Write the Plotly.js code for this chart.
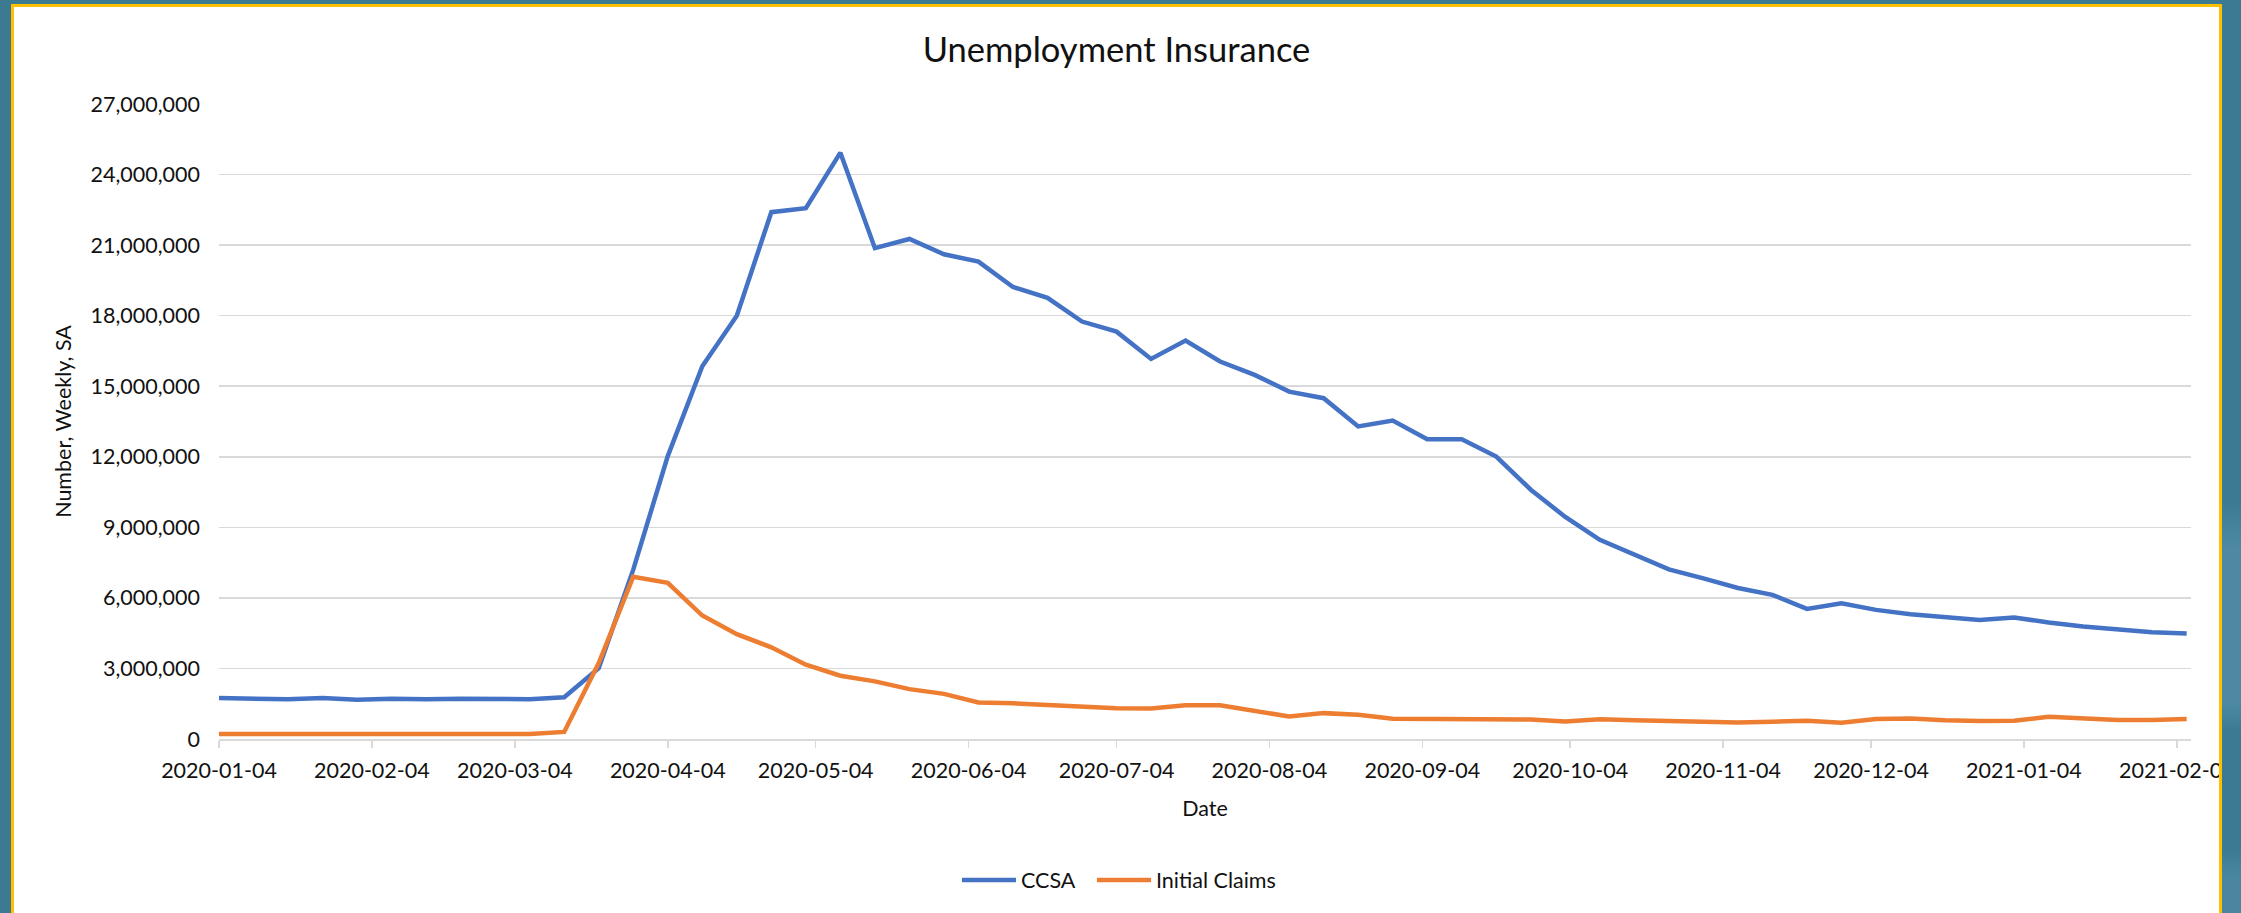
<!DOCTYPE html>
<html>
<head>
<meta charset="utf-8">
<script src="https://cdn.plot.ly/plotly-3.0.1.min.js"></script>
<style>
  html, body { margin: 0; padding: 0; width: 2241px; height: 913px; overflow: hidden; }
  body { background: #3c7a92; position: relative; }
  #rightstrip { position: absolute; left: 2222px; top: 0; width: 19px; height: 913px;
    background: linear-gradient(to bottom, #3c7a92 0%, #3c7a92 55%, #4d8aa1 60%, #4d8aa1 77%, #3c7a92 80%, #3c7a92 93%, #4a879e 96%, #4a879e 100%); }
  #frame { position: absolute; left: 11px; top: 4px; width: 2205px; height: 1000px;
    border: 3px solid #ffc000; background: #ffffff; overflow: hidden; }
  #chart { position: absolute; left: 0; top: 0; width: 2205px; height: 906px; }
</style>
</head>
<body>
<div id="rightstrip"></div>
<div id="frame"><div id="chart"></div></div>
<script>
// Week-ending dates (Saturdays)
const dates = [
  "2020-01-04","2020-01-11","2020-01-18","2020-01-25",
  "2020-02-01","2020-02-08","2020-02-15","2020-02-22","2020-02-29",
  "2020-03-07","2020-03-14","2020-03-21","2020-03-28",
  "2020-04-04","2020-04-11","2020-04-18","2020-04-25",
  "2020-05-02","2020-05-09","2020-05-16","2020-05-23","2020-05-30",
  "2020-06-06","2020-06-13","2020-06-20","2020-06-27",
  "2020-07-04","2020-07-11","2020-07-18","2020-07-25",
  "2020-08-01","2020-08-08","2020-08-15","2020-08-22","2020-08-29",
  "2020-09-05","2020-09-12","2020-09-19","2020-09-26",
  "2020-10-03","2020-10-10","2020-10-17","2020-10-24","2020-10-31",
  "2020-11-07","2020-11-14","2020-11-21","2020-11-28",
  "2020-12-05","2020-12-12","2020-12-19","2020-12-26",
  "2021-01-02","2021-01-09","2021-01-16","2021-01-23","2021-01-30",
  "2021-02-06"
];

// Continued claims (CCSA)
const ccsa = [
  1740000, 1710000, 1690000, 1745000,
  1670000, 1710000, 1685000, 1710000, 1695000,
  1695000, 1775000, 3010000, 7200000,
  12030000, 15850000, 18000000, 22400000,
  22570000, 24930000, 20870000, 21260000, 20610000,
  20300000, 19220000, 18760000, 17750000,
  17320000, 16160000, 16940000, 16050000,
  15480000, 14770000, 14490000, 13290000, 13540000,
  12750000, 12750000, 12010000, 10600000,
  9440000, 8470000, 7850000, 7210000, 6830000,
  6420000, 6130000, 5530000, 5770000,
  5490000, 5300000, 5200000, 5060000,
  5170000, 4950000, 4780000, 4680000, 4540000,
  4490000
];

// Initial claims
const initialClaims = [
  210000, 205000, 215000, 212000,
  205000, 205000, 212000, 215000, 215000,
  212000, 300000, 3230000, 6900000,
  6640000, 5250000, 4460000, 3900000,
  3160000, 2690000, 2450000, 2120000, 1920000,
  1550000, 1520000, 1450000, 1380000,
  1310000, 1300000, 1430000, 1430000,
  1210000, 960000, 1100000, 1030000, 860000,
  860000, 860000, 845000, 830000,
  740000, 840000, 800000, 760000, 760000,
  705000, 735000, 775000, 695000,
  850000, 875000, 795000, 765000,
  780000, 945000, 875000, 805000, 805000,
  850000
];

// Month ticks (4th of each month)
const tickDates = [
  "2020-01-04","2020-02-04","2020-03-04","2020-04-04","2020-05-04","2020-06-04",
  "2020-07-04","2020-08-04","2020-09-04","2020-10-04","2020-11-04","2020-12-04",
  "2021-01-04","2021-02-04"
];

const FONT = "Lato, 'Open Sans', sans-serif";
const TXT = "#111111";

const traces = [
  { x: dates, y: ccsa, name: "CCSA", type: "scatter", mode: "lines",
    line: { color: "#4472C4", width: 4.5 }, legend: "legend" },
  { x: dates, y: initialClaims, name: "Initial Claims", type: "scatter", mode: "lines",
    line: { color: "#ED7D31", width: 4.5 }, legend: "legend2" }
];

const legendBase = {
  orientation: "h",
  xref: "container", xanchor: "left",
  yref: "container", y: 1 - 873/906, yanchor: "middle",
  font: { family: FONT, size: 21.5, color: TXT },
  bgcolor: "rgba(0,0,0,0)", itemwidth: 54
};

const layout = {
  width: 2205, height: 906,
  paper_bgcolor: "#ffffff", plot_bgcolor: "#ffffff",
  margin: { l: 205, r: 28, t: 97, b: 174, pad: 0 },
  font: { family: FONT, color: TXT, size: 21.5 },
  title: { text: "Unemployment Insurance", font: { family: FONT, size: 34.5, color: TXT },
    xref: "container", x: 0.5, xanchor: "center",
    yref: "container", y: 1 - 43/906, yanchor: "middle" },
  xaxis: {
    type: "date",
    range: ["2020-01-04", "2021-02-06 21:00"],
    tickvals: tickDates, ticktext: tickDates,
    ticks: "outside", ticklen: 7, tickwidth: 1.5, tickcolor: "#d9d9d9",
    showline: true, linecolor: "#d9d9d9", linewidth: 1.5,
    showgrid: false, zeroline: false,
    ticklabeloverflow: "allow",
    ticklabelstandoff: 5,
    tickfont: { family: FONT, size: 21.5, color: TXT },
    title: { text: "Date", font: { family: FONT, size: 21.5, color: TXT }, standoff: 18 },
    automargin: false, fixedrange: true
  },
  yaxis: {
    range: [0, 27000000], dtick: 3000000, tick0: 0,
    tickformat: ",d",
    showgrid: true, gridcolor: "#d9d9d9", gridwidth: 1.5,
    zeroline: false, showline: false, ticks: "",
    ticklabelstandoff: 18,
    tickfont: { family: FONT, size: 21.5, color: TXT },
    title: { text: "Number, Weekly, SA", font: { family: FONT, size: 21.5, color: TXT }, standoff: 12 },
    automargin: false, fixedrange: true
  },
  showlegend: true,
  legend: Object.assign({}, legendBase, { x: 943/2205 }),
  legend2: Object.assign({}, legendBase, { x: 1078/2205 }),
  hovermode: false
};

Plotly.newPlot("chart", traces, layout, { displayModeBar: false, staticPlot: true });
</script>
</body>
</html>
